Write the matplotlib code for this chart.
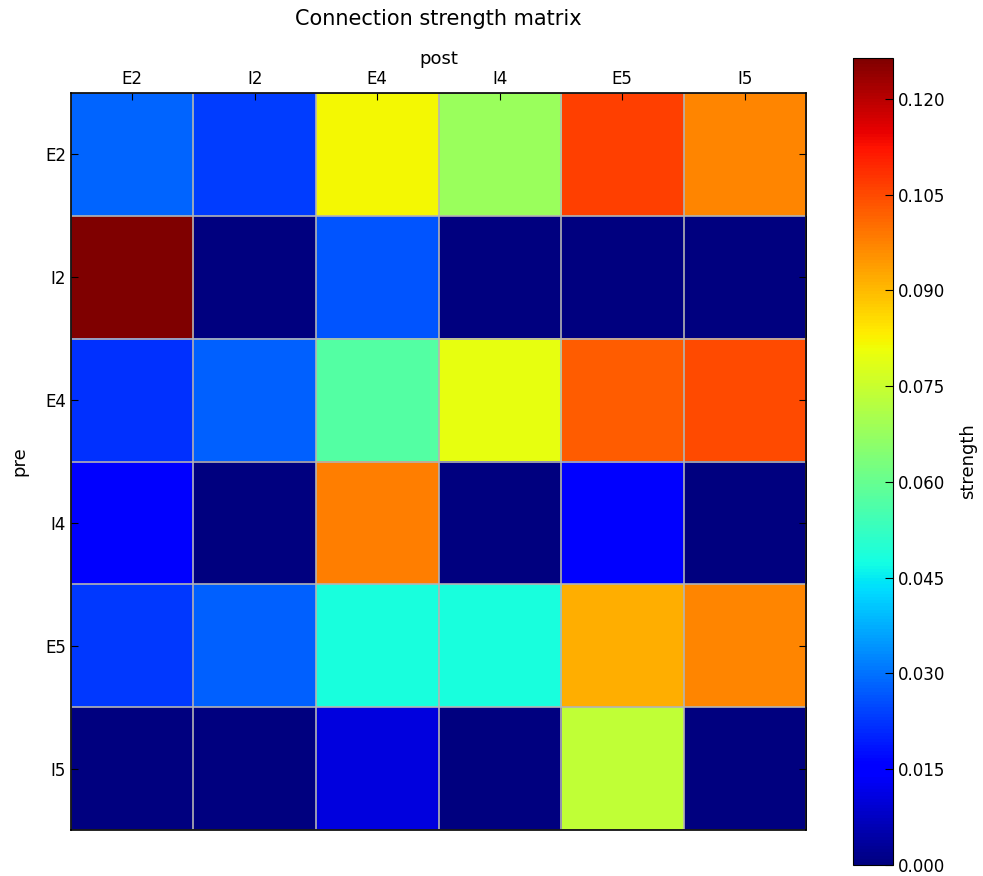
import numpy as np
import matplotlib
matplotlib.use('Agg')
from matplotlib import pyplot

pops = ['E2', 'I2', 'E4', 'I4', 'E5', 'I5']

# connection strength, rows = pre, columns = post
row_E2 = [0.0284, 0.0237, 0.0815, 0.0677, 0.1065, 0.0970]
row_I2 = [0.1264, 0.0, 0.0262, 0.0, 0.0, 0.0]
row_E4 = [0.0221, 0.0278, 0.0569, 0.0795, 0.1024, 0.1048]
row_I4 = [0.0148, 0.0, 0.0980, 0.0, 0.0152, 0.0]
row_E5 = [0.0228, 0.0278, 0.0481, 0.0481, 0.0918, 0.0970]
row_I5 = [0.0, 0.0, 0.0106, 0.0, 0.0740, 0.0]

cbar_ticks = [0.000, 0.015, 0.030, 0.045, 0.060, 0.075, 0.090, 0.105, 0.120]

strength = np.array([row_E2, row_I2, row_E4, row_I4, row_E5, row_I5])

pyplot.rcParams['font.family'] = ['DejaVu Sans']

fig = pyplot.figure(figsize=(9.83, 8.76), dpi=100)
ax = fig.add_axes([0.0722, 0.0525, 0.7478, 0.8413])
cax = fig.add_axes([0.8678, 0.0126, 0.0407, 0.9212])

im = ax.imshow(strength, cmap='jet', interpolation='nearest', aspect='auto',
               vmin=0, vmax=strength.max())

ax.set_xticks(np.arange(len(pops)))
ax.set_yticks(np.arange(len(pops)))
ax.set_xticklabels(pops)
ax.set_yticklabels(pops)
ax.xaxis.tick_top()
ax.tick_params(which='major', direction='in', length=5, labelsize=12,
               top=True, bottom=False, left=True, right=True,
               labeltop=True, labelbottom=False)
ax.set_xticks(np.arange(-0.5, len(pops), 1), minor=True)
ax.set_yticks(np.arange(-0.5, len(pops), 1), minor=True)
ax.tick_params(which='minor', length=0)
ax.grid(which='minor', color='#b4b4b4', linewidth=1.2)
ax.grid(which='major', visible=False)
for sp in ax.spines.values():
    sp.set_linewidth(1.2)

ax.xaxis.set_label_position('top')
ax.set_xlabel('post', fontsize=13, labelpad=4.5)
ax.set_ylabel('pre', fontsize=13, labelpad=12)
ax.set_title('Connection strength matrix', fontsize=15, pad=49)

cb = fig.colorbar(im, cax=cax, ticks=cbar_ticks)
cb.ax.tick_params(direction='in', length=6, labelsize=12)
cb.ax.set_yticklabels(['%.3f' % t for t in cbar_ticks])
cb.set_label('strength', fontsize=13, labelpad=10)

fig.savefig('out.png', dpi=100)
